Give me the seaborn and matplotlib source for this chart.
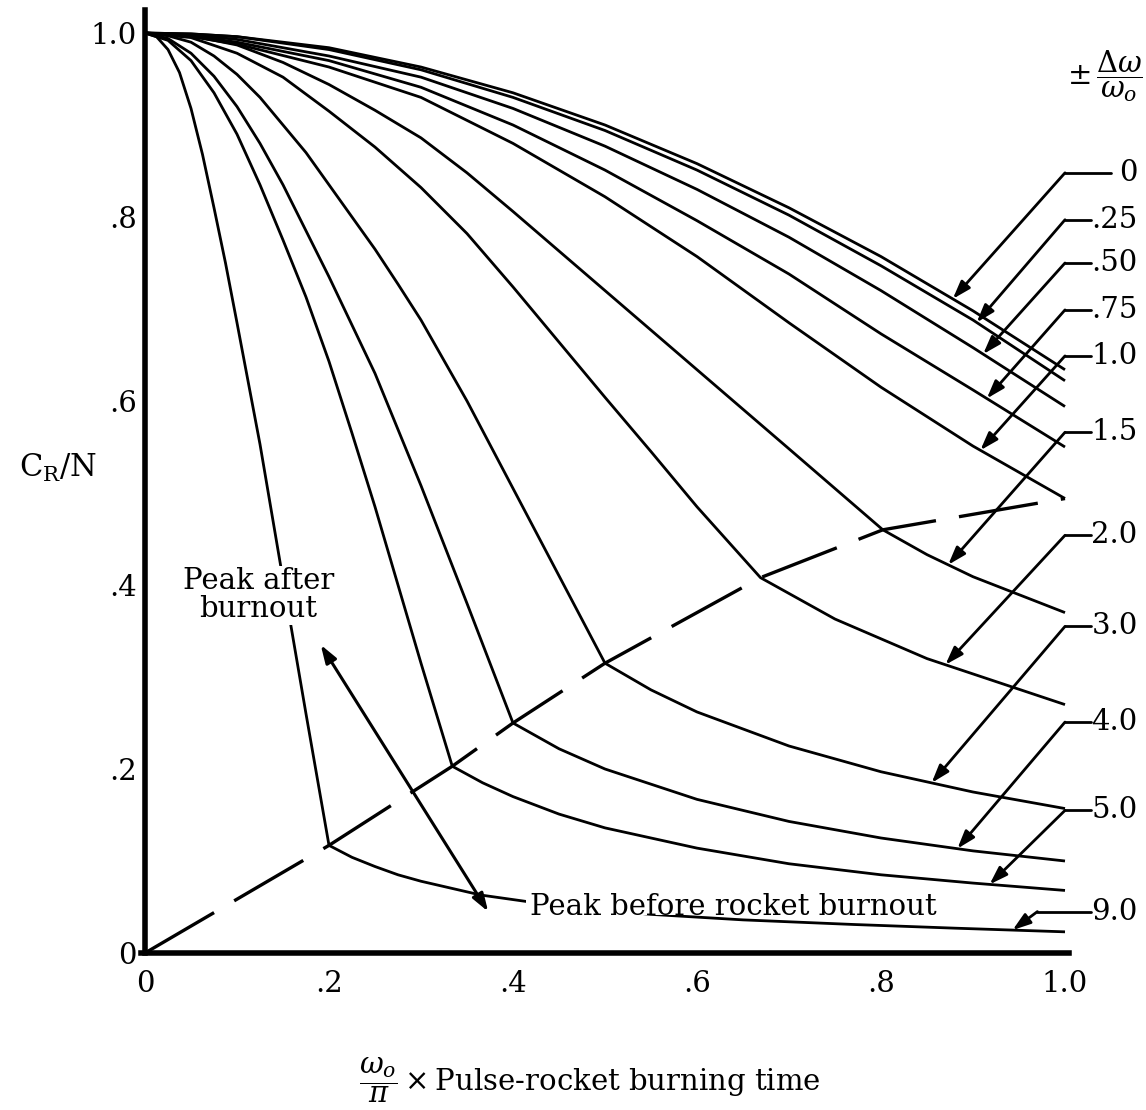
import numpy as np
import pandas as pd
import matplotlib
matplotlib.use("Agg")
import matplotlib.pyplot as plt
from matplotlib.patches import Rectangle
import seaborn as sns

# ---------------- data ----------------
curve_labels = ["0", ".25", ".50", ".75", "1.0", "1.5", "2.0", "3.0", "4.0", "5.0", "9.0"]

x_top = [0, .05, .1, .2, .3, .4, .5, .6, .7, .8, .9, 1.0]
y_d000 = [1.0, .999, .996, .984, .963, .935, .900, .858, .810, .757, .698, .634]
y_d025 = [1.0, .999, .996, .982, .960, .930, .894, .851, .802, .747, .688, .622]
y_d050 = [1.0, .998, .993, .975, .952, .918, .877, .830, .778, .720, .658, .594]
y_d075 = [1.0, .997, .990, .970, .941, .900, .851, .796, .738, .673, .612, .550]
y_d100 = [1.0, .996, .988, .963, .930, .880, .822, .757, .685, .615, .551, .494]

x_d150 = [0, .05, .1, .15, .2, .25, .3, .35, .4, .5, .6, .7, .802, .85, .9, 1.0]
y_d150 = [1.0, .997, .987, .968, .944, .916, .886, .848, .806, .720, .634, .548, .460, .433, .409, .370]

x_d200 = [0, .05, .1, .15, .2, .25, .3, .35, .4, .45, .5, .55, .6, .669, .75, .85, 1.0]
y_d200 = [1.0, .995, .978, .952, .915, .876, .832, .782, .724, .664, .604, .545, .485, .408, .363, .320, .270]

x_d300 = [0, .025, .05, .075, .1, .125, .15, .175, .2, .225, .25, .275, .3, .35, .4, .45, .5,
          .55, .6, .7, .8, .9, 1.0]
y_d300 = [1.0, .997, .990, .975, .955, .930, .900, .870, .835, .800, .765, .727, .688, .600,
          .505, .410, .315, .286, .262, .225, .197, .175, .157]

x_d400 = [0, .025, .05, .075, .1, .125, .15, .175, .2, .25, .3, .35, .4, .45, .5, .6, .7, .8, .9, 1.0]
y_d400 = [1.0, .994, .978, .953, .920, .880, .835, .785, .735, .630, .508, .380, .250, .222, .200,
          .167, .143, .125, .111, .100]

x_d500 = [0, .025, .05, .075, .1, .125, .15, .175, .2, .225, .25, .275, .3, .334, .367, .4, .45, .5,
          .6, .7, .8, .9, 1.0]
y_d500 = [1.0, .992, .970, .935, .890, .835, .775, .713, .643, .565, .485, .400, .315, .203, .185,
          .170, .151, .136, .114, .097, .085, .076, .068]

x_d900 = [0, .0125, .025, .0375, .05, .0625, .075, .0875, .1, .125, .15, .175, .2, .225, .25, .275,
          .3, .365, .45, .55, .65, .77, .88, 1.0]
y_d900 = [1.0, .996, .982, .957, .918, .868, .810, .750, .685, .553, .406, .260, .117, .104, .094,
          .085, .078, .063, .051, .042, .036, .031, .027, .023]

# boundary between "peak after burnout" and "peak before burnout"
x_bound = [0, .2, .334, .4, .5, .669, .802, 1.0]
y_bound = [0, .117, .203, .250, .315, .408, .460, .494]

# where each arrow touches its curve (x), and label heights (y)
tip_x = [.878, .904, .911, .915, .908, .873, .870, .855, .883, .918, .943]
label_y = [.848, .797, .750, .699, .649, .566, .454, .355, .251, .155, .045]

x_ticks = [0, .2, .4, .6, .8, 1.0]
x_ticklabels = ["0", ".2", ".4", ".6", ".8", "1.0"]
y_ticks = [0, .2, .4, .6, .8, 1.0]
y_ticklabels = ["0", ".2", ".4", ".6", ".8", "1.0"]

# ---------------- build table ----------------
xs = [x_top, x_top, x_top, x_top, x_top, x_d150, x_d200, x_d300, x_d400, x_d500, x_d900]
ys = [y_d000, y_d025, y_d050, y_d075, y_d100, y_d150, y_d200, y_d300, y_d400, y_d500, y_d900]
frames = []
for lab, xx, yy in zip(curve_labels, xs, ys):
    frames.append(pd.DataFrame({"x": xx, "y": yy, "curve": lab}))
df = pd.concat(frames, ignore_index=True)
df_b = pd.DataFrame({"x": x_bound, "y": y_bound})

# ---------------- style ----------------
sns.set_theme(style="white")
plt.rcParams["font.family"] = ["DejaVu Serif"]
plt.rcParams["mathtext.fontset"] = "dejavuserif"
plt.rcParams["text.color"] = "black"

W, H = 1146, 1110
fig = plt.figure(figsize=(W / 100, H / 100), dpi=100)
ax = fig.add_axes([145 / W, 157 / H, 920 / W, 920 / H])

sns.lineplot(data=df, x="x", y="y", units="curve", estimator=None, sort=False,
             color="black", lw=2.0, ax=ax, legend=False)
for ln in ax.lines:
    ln.set_clip_on(False)
    ln.set_solid_capstyle("butt")
    ln.set_solid_joinstyle("round")

sns.lineplot(data=df_b, x="x", y="y", estimator=None, sort=False, color="black",
             lw=2.4, ax=ax, legend=False)
ax.lines[-1].set_linestyle((0, (24, 7)))
ax.lines[-1].set_clip_on(False)

ax.set_xlim(0, 1.0)
ax.set_ylim(0, 1.0)
ax.set_xlabel("")
ax.set_ylabel("")

for s in ["top", "right"]:
    ax.spines[s].set_visible(False)
for s in ["left", "bottom"]:
    ax.spines[s].set_linewidth(4)
    ax.spines[s].set_color("black")
ax.spines["left"].set_bounds(0, 1.025)
ax.spines["bottom"].set_bounds(-0.004, 1.004)

ax.set_xticks(x_ticks)
ax.set_xticklabels(x_ticklabels)
ax.set_yticks(y_ticks)
ax.set_yticklabels(y_ticklabels)
ax.tick_params(axis="both", direction="in", length=32, width=1.6, color="black",
               labelsize=21, labelcolor="black")
ax.tick_params(axis="x", pad=12)
ax.tick_params(axis="y", pad=6)
xt = ax.xaxis.get_major_ticks()
yt = ax.yaxis.get_major_ticks()
xt[0].tick1line.set_markersize(0)
yt[0].tick1line.set_markersize(0)
yt[5].tick1line.set_markersize(0)
yt[2].tick1line.set_markersize(23)
xt[5].tick1line.set_markersize(34)

# ---------------- curve labels with arrows ----------------
for lab, xx, yy, tx, ly in zip(curve_labels, xs, ys, tip_x, label_y):
    ty = float(np.interp(tx, xx, yy))
    elbow_x = 0.970 if lab == "9.0" else 1.0
    lead_end = 1.050 if lab == "0" else 1.028
    ax.plot([elbow_x, lead_end], [ly, ly], color="black", lw=2.0, clip_on=False)
    ax.annotate("", xy=(tx, ty), xytext=(elbow_x, ly),
                arrowprops=dict(arrowstyle="-|>,head_length=0.9,head_width=0.3",
                                color="black", lw=2.0, shrinkA=0, shrinkB=0),
                annotation_clip=False)
    ax.text(1.079, ly, lab, ha="right", va="center", fontsize=21, color="black",
            clip_on=False)

# ---------------- peak annotations ----------------
ax.text(0.123, 0.389, "Peak after\nburnout", ha="center", va="center", fontsize=21,
        linespacing=1.0, zorder=6, color="black",
        bbox=dict(facecolor="white", edgecolor="none", pad=1.0))
# white band behind the lower text: the curve shows only below its baseline
ax.add_patch(Rectangle((0.414, 0.041), 0.452, 0.025, facecolor="white",
                       edgecolor="none", zorder=5))
ax.text(0.418, 0.041, "Peak before rocket burnout", ha="left", va="baseline",
        fontsize=21, zorder=6, color="black")
ax.annotate("", xy=(0.191, 0.335), xytext=(0.373, 0.045),
            arrowprops=dict(arrowstyle="<|-|>,head_length=0.9,head_width=0.3",
                            color="black", lw=2.2, shrinkA=0, shrinkB=0),
            annotation_clip=False)

# ---------------- axis titles ----------------
fig.text(58 / W, 1 - 468 / H, r"$\mathrm{C_R/N}$", ha="center", va="center",
         fontsize=22, color="black")
fig.text(590 / W, 1 - 1080 / H,
         r"$\dfrac{\omega_o}{\pi}\times$Pulse-rocket burning time",
         ha="center", va="center", fontsize=21, color="black")
fig.text(1143 / W, 1 - 76 / H, r"$\pm\,\dfrac{\Delta\omega}{\omega_o}$",
         ha="right", va="center", fontsize=21, color="black")

fig.savefig("out.png", dpi=100, facecolor="white")
